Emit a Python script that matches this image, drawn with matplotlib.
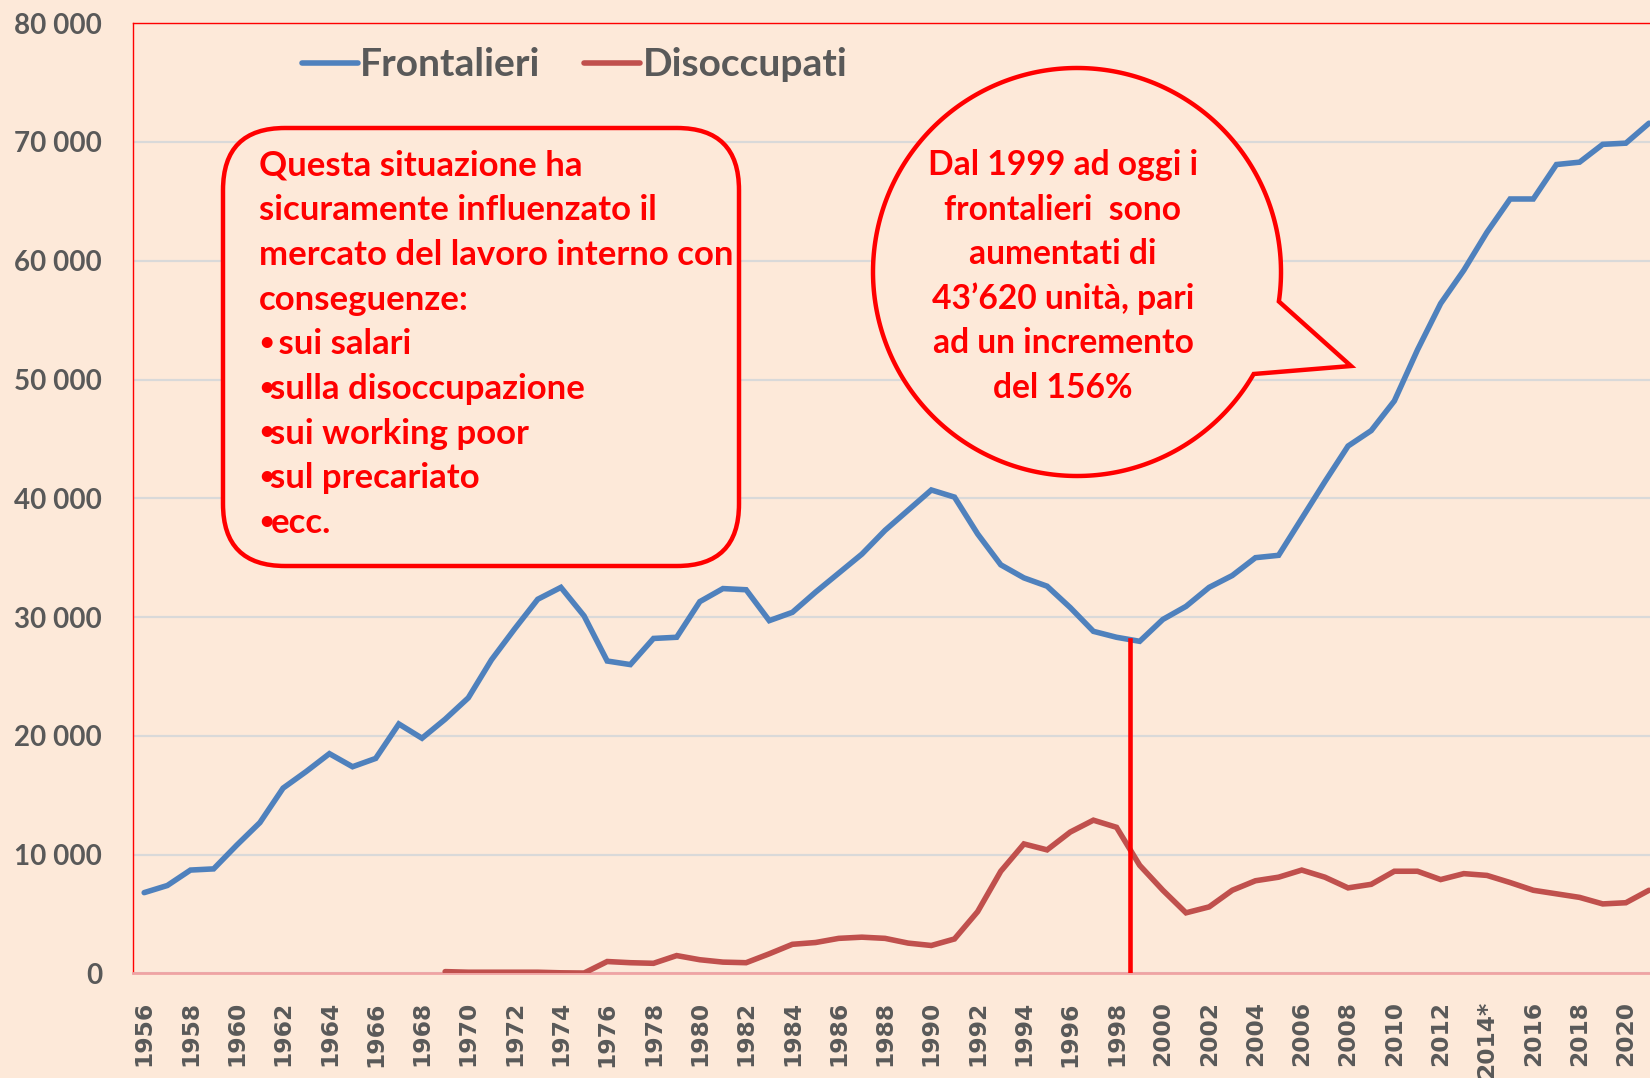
import numpy as np
import matplotlib
matplotlib.use("Agg")
import matplotlib.pyplot as plt
from matplotlib.patches import FancyBboxPatch, Polygon
from matplotlib.transforms import IdentityTransform
from matplotlib.font_manager import FontProperties

# ---------------- data ----------------
years = list(range(1956, 2022))
frontalieri = [
    6800, 7400, 8700, 8800,                                                  # 1956-1959
    10800, 12700, 15600, 17000, 18500, 17400, 18100, 21000, 19800, 21400,    # 1960-1969
    23200, 26400, 29000, 31500, 32500, 30100, 26300, 26000, 28200, 28300,    # 1970-1979
    31300, 32400, 32300, 29700, 30400, 32100, 33700, 35300, 37300, 39000,    # 1980-1989
    40700, 40100, 37000, 34400, 33300, 32600, 30800, 28800, 28300, 27960,    # 1990-1999
    29800, 30900, 32500, 33500, 35000, 35200, 38300, 41400, 44400, 45700,    # 2000-2009
    48200, 52500, 56400, 59200, 62400, 65200, 65200, 68100, 68300, 69800,    # 2010-2019
    69900, 71580,                                                            # 2020-2021
]
disoccupati = [np.nan] * 13 + [
    150, 100, 100, 100, 100, 50, 30,                                         # 1969-1975
    1000, 900, 850, 1500, 1150, 950, 900, 1650, 2450, 2600,                  # 1976-1985
    2950, 3050, 2950, 2550, 2350, 2900, 5200, 8600, 10900, 10400,            # 1986-1995
    11900, 12900, 12300, 9100, 7000, 5100, 5600, 7000, 7800, 8100,           # 1996-2005
    8700, 8100, 7200, 7500, 8600, 8600, 7900, 8400, 8250, 7650,              # 2006-2015
    7000, 6700, 6400, 5850, 5950, 7000,                                      # 2016-2021
]
tick_years = list(range(1956, 2021, 2))
tick_labels = ['1956', '1958', '1960', '1962', '1964', '1966', '1968', '1970',
               '1972', '1974', '1976', '1978', '1980', '1982', '1984', '1986',
               '1988', '1990', '1992', '1994', '1996', '1998', '2000', '2002',
               '2004', '2006', '2008', '2010', '2012', '2014*', '2016', '2018',
               '2020']
y_ticks = [0, 10000, 20000, 30000, 40000, 50000, 60000, 70000, 80000]
y_tick_labels = ['0', '10 000', '20 000', '30 000', '40 000', '50 000',
                 '60 000', '70 000', '80 000']
series_names = ['Frontalieri', 'Disoccupati']
marker_year = 1998.6

# (bullet?, text)
box_lines = [(False, 'Questa situazione ha'), (False, 'sicuramente influenzato il'),
             (False, 'mercato del lavoro interno con'), (False, 'conseguenze:'),
             (True, ' sui salari'), (True, 'sulla disoccupazione'),
             (True, 'sui working poor'), (True, 'sul precariato'), (True, 'ecc.')]
bubble_lines = ['Dal 1999 ad oggi i', 'frontalieri  sono', 'aumentati di',
                '43\u2019620 unit\u00e0, pari', 'ad un incremento', 'del 156%']

# ---------------- style ----------------
W, H = 1650, 1078
BG = '#FDE9D9'
BLUE = '#4F81BD'
RED = '#C0504D'
ALERT = '#FF0000'
GRAY = '#595959'
TXT_FONT = ['Lato', 'DejaVu Sans']

fig = plt.figure(figsize=(W / 100, H / 100), dpi=100, facecolor=BG)
renderer = fig.canvas.get_renderer()


def text_width(text, size, family, weight='bold'):
    t = fig.text(0, 0, text, fontsize=size, family=family, weight=weight)
    w = t.get_window_extent(renderer).width
    t.remove()
    return w


def fit_size(text, target_px, family, weight='bold'):
    return 20 * target_px / text_width(text, 20, family, weight)


ax_left, ax_right = 132.6, 1660.6
ax_top, ax_bottom = 23.2, 973.4
ax = fig.add_axes([ax_left / W, 1 - ax_bottom / H,
                   (ax_right - ax_left) / W, (ax_bottom - ax_top) / H])
ax.set_facecolor(BG)

LW = 4.0
ax.plot(years, frontalieri, color=BLUE, lw=LW, solid_capstyle='round',
        solid_joinstyle='miter', label=series_names[0], zorder=3)
ax.plot(years, disoccupati, color=RED, lw=LW, solid_capstyle='round',
        solid_joinstyle='miter', label=series_names[1], zorder=3)

top_val = np.interp(marker_year, years, frontalieri)
ax.plot([marker_year, marker_year], [0, top_val], color=ALERT, lw=3.3, zorder=4)

ax.set_xlim(1955.5, 2021.5)
ax.set_ylim(0, 80000)
ax.set_yticks(y_ticks)
ax.set_xticks(tick_years)
ax.grid(axis='y', color='#D9D9D9', lw=1.6, zorder=0)
ax.set_axisbelow(True)

ytick_fs = fit_size('80 000', 88, TXT_FONT)
xtick_fs = fit_size('1956', 65, ['DejaVu Sans'])
ax.set_yticklabels(y_tick_labels, fontsize=ytick_fs, family=TXT_FONT,
                   weight='bold', color=GRAY)
ax.set_xticklabels(tick_labels, rotation=90, fontsize=xtick_fs,
                   family='DejaVu Sans', weight='bold', color=GRAY)
ax.tick_params(axis='y', length=0, pad=22)
ax.tick_params(axis='x', length=0, pad=20)

for s in ['left', 'top', 'right']:
    ax.spines[s].set_color(ALERT)
    ax.spines[s].set_linewidth(1.0)
ax.spines['bottom'].set_color('#EFA3A3')
ax.spines['bottom'].set_linewidth(2.0)

# legend
leg_fs = fit_size('Disoccupati', 205, TXT_FONT)
leg_px = leg_fs * 100 / 72
leg = ax.legend(loc='center left', bbox_to_anchor=(302, H - 65),
                bbox_transform=IdentityTransform(), ncol=2, frameon=False,
                prop=FontProperties(family=TXT_FONT, weight='bold', size=leg_fs),
                handlelength=56 / leg_px, handletextpad=2 / leg_px,
                columnspacing=44 / leg_px, borderpad=0, borderaxespad=0)
for t in leg.get_texts():
    t.set_color(GRAY)
for l in leg.get_lines():
    l.set_linewidth(LW)

# rounded text box
tr = IdentityTransform()
bx0, bx1, by0, by1 = 223, 739, 128, 566
box = FancyBboxPatch((bx0, H - by1), bx1 - bx0, by1 - by0,
                     boxstyle='round,pad=0,rounding_size=62', transform=tr,
                     fc=BG, ec=ALERT, lw=3.2, zorder=5)
fig.add_artist(box)
box_fs = fit_size(box_lines[0][1], 323, TXT_FONT)
box_px = box_fs * 100 / 72
bullet_fs = box_fs * 0.72
bullet_w = 11.5
for i, (has_bullet, line) in enumerate(box_lines):
    yc = 163 + i * 44.7
    x = 259
    if has_bullet:
        fig.text(x, H - (yc + 0.02 * box_px), '\u2022', transform=tr,
                 fontsize=bullet_fs, family=TXT_FONT, weight='bold', color=ALERT,
                 va='center', ha='left', zorder=6)
        x += bullet_w
    fig.text(x, H - (yc + 0.36 * box_px), line, transform=tr, fontsize=box_fs,
             family=TXT_FONT, weight='bold', color=ALERT, va='baseline',
             ha='left', zorder=6)

# speech bubble
cx, cy, r = 1077, 272, 204
a0, a1 = np.deg2rad(30.0), np.deg2rad(368.3)
ang = np.linspace(a0, a1, 300)
pts = [(cx + r * np.cos(a), H - (cy + r * np.sin(a))) for a in ang]
pts.append((1351, H - 366))
bubble = Polygon(pts, closed=True, transform=tr, fc=BG, ec=ALERT, lw=3.2,
                 joinstyle='miter', zorder=5)
fig.add_artist(bubble)
bub_fs = fit_size(bubble_lines[0], 269, TXT_FONT)
bub_px = bub_fs * 100 / 72
for i, line in enumerate(bubble_lines):
    yc = 163 + i * 44.6
    fig.text(1063, H - (yc + 0.36 * bub_px), line, transform=tr, fontsize=bub_fs,
             family=TXT_FONT, weight='bold', color=ALERT, va='baseline',
             ha='center', zorder=6)

fig.savefig('out.png', dpi=100, facecolor=BG)
